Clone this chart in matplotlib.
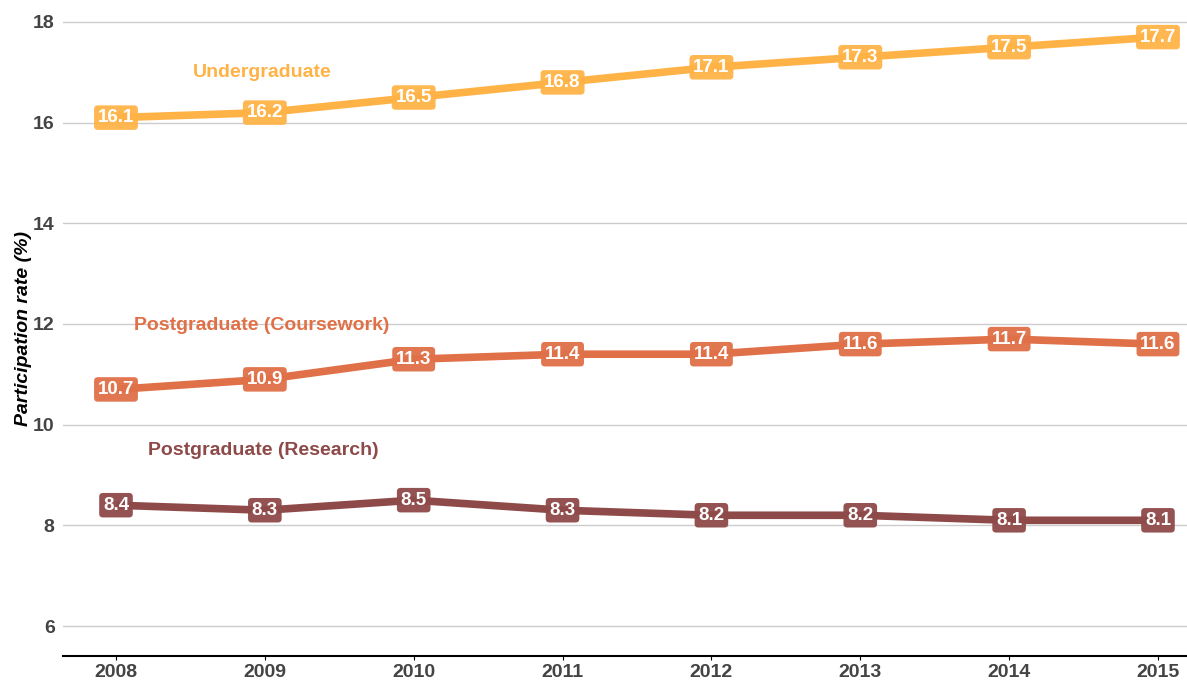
import matplotlib
matplotlib.use("Agg")
import matplotlib.pyplot as plt

years = [2008, 2009, 2010, 2011, 2012, 2013, 2014, 2015]
undergrad = [16.1, 16.2, 16.5, 16.8, 17.1, 17.3, 17.5, 17.7]
pg_course = [10.7, 10.9, 11.3, 11.4, 11.4, 11.6, 11.7, 11.6]
pg_research = [8.4, 8.3, 8.5, 8.3, 8.2, 8.2, 8.1, 8.1]
series_names = ["Undergraduate", "Postgraduate (Coursework)", "Postgraduate (Research)"]
colors = ["#FFB347", "#E07048", "#8E4A49"]
name_pos = [(2008.98, 16.99), (2008.98, 11.98), (2008.99, 9.48)]
yticks = [6, 8, 10, 12, 14, 16, 18]

plt.rcParams['font.family'] = ['Liberation Sans', 'DejaVu Sans']
fig = plt.figure(figsize=(11.87, 6.8), dpi=100)
ax = fig.add_axes([63/1187, 1-656/680, (1187-63)/1187, 656/680])

for vals, c, name, (nx, ny) in zip([undergrad, pg_course, pg_research], colors, series_names, name_pos):
    ax.plot(years, vals, color=c, lw=5.5, solid_capstyle='butt', zorder=2)
    for x, v in zip(years, vals):
        ax.text(x, v, f"{v:.1f}", ha='center', va='center', color='white',
                fontsize=13.5, fontweight='bold', zorder=4,
                bbox=dict(boxstyle='round,pad=0.2,rounding_size=0.2', fc=c, ec='none', alpha=0.95))
    ax.text(nx, ny, name, ha='center', va='center', color=c, fontsize=14, fontweight='bold', zorder=3)

ax.set_xlim(2007.644, 2015.195)
ax.set_ylim(5.404, 18.437)
ax.set_yticks(yticks)
ax.set_xticks(years)
ax.grid(axis='y', color='#cccccc', lw=1)
ax.set_axisbelow(True)
for s in ['top', 'right', 'left']:
    ax.spines[s].set_visible(False)
ax.spines['bottom'].set_linewidth(1.5)
ax.spines['bottom'].set_color('black')
ax.tick_params(axis='y', length=0, labelsize=14, labelcolor='#444444', pad=6)
ax.tick_params(axis='x', length=3, labelsize=14, labelcolor='#444444', pad=3)
for lab in ax.get_xticklabels() + ax.get_yticklabels():
    lab.set_fontweight('bold')
ax.set_ylabel("Participation rate (%)", fontsize=14, fontweight='bold', style='italic', labelpad=1)

fig.savefig("out.png", dpi=100)
